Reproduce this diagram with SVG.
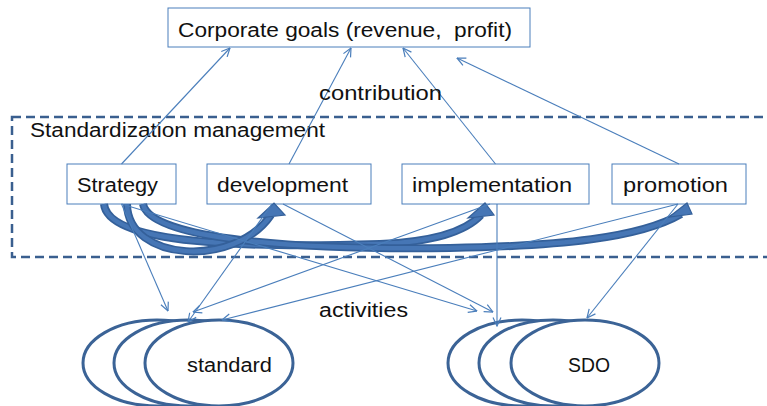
<svg xmlns="http://www.w3.org/2000/svg" width="767" height="406" viewBox="0 0 767 406">
<style>
.t{font-family:"Liberation Sans",Arial,sans-serif;font-size:20px;fill:#111}
.box{fill:#fff;stroke:#4a7ebb;stroke-width:1}
.ell{fill:#fff;stroke:#3b6396;stroke-width:3}
.ln{fill:none;stroke:#4a7ebb;stroke-width:1.1;marker-end:url(#ah)}
.bo{fill:none;stroke:#34609a;stroke-width:8;stroke-linecap:butt}
.bi{fill:none;stroke:#4676b5;stroke-width:4.5;stroke-linecap:butt}
.hd{fill:#4676b5;stroke:#34609a;stroke-width:1.2;stroke-linejoin:miter}
</style>
<defs>
<marker id="ah" viewBox="0 0 10 10" refX="9.5" refY="5" markerWidth="10" markerHeight="10" markerUnits="userSpaceOnUse" orient="auto">
<path d="M1,1 L9.5,5 L1,9" fill="none" stroke="#4a7ebb" stroke-width="1.2"/>
</marker>
</defs>
<rect width="767" height="406" fill="#fff"/>
<g id="zone">
<rect x="12" y="117" width="800" height="140" fill="none" stroke="#3a5f8f" stroke-width="2.5" stroke-dasharray="9,5"/>
<text class="t" x="30" y="137" textLength="295" lengthAdjust="spacingAndGlyphs">Standardization management</text>
</g>
<g id="goals">
<rect class="box" x="168" y="8" width="362" height="39"/>
<text class="t" x="178" y="37" font-size="21" textLength="334" lengthAdjust="spacingAndGlyphs" xml:space="preserve">Corporate goals (revenue,  profit)</text>
</g>
<g id="strategy">
<rect class="box" x="67" y="164" width="109" height="40"/>
<text class="t" x="77" y="192" font-size="21" textLength="81" lengthAdjust="spacingAndGlyphs">Strategy</text>
</g>
<g id="development">
<rect class="box" x="207" y="164" width="164" height="40"/>
<text class="t" x="217" y="192" font-size="21" textLength="131" lengthAdjust="spacingAndGlyphs">development</text>
</g>
<g id="implementation">
<rect class="box" x="402" y="164" width="187" height="40"/>
<text class="t" x="412" y="192" font-size="21" textLength="160" lengthAdjust="spacingAndGlyphs">implementation</text>
</g>
<g id="promotion">
<rect class="box" x="612" y="164" width="134" height="40"/>
<text class="t" x="623" y="192" font-size="21" textLength="105" lengthAdjust="spacingAndGlyphs">promotion</text>
</g>
<g id="standard">
<ellipse class="ell" cx="157" cy="363" rx="74" ry="43"/>
<ellipse class="ell" cx="188" cy="363" rx="74" ry="43"/>
<ellipse class="ell" cx="219" cy="363" rx="74" ry="43"/>
<text class="t" x="187" y="372" font-size="21" textLength="85" lengthAdjust="spacingAndGlyphs">standard</text>
</g>
<g id="sdo">
<ellipse class="ell" cx="522" cy="363" rx="74" ry="43"/>
<ellipse class="ell" cx="553" cy="363" rx="74" ry="43"/>
<ellipse class="ell" cx="585" cy="363" rx="74" ry="43"/>
<text class="t" x="568" y="372" font-size="21" textLength="42" lengthAdjust="spacingAndGlyphs">SDO</text>
</g>
<g id="connectors">
<g id="thick-arrows">
<path class="bo" d="M104,204 C108,245 250,248 380,244 C430,242 465,232 481,215"/>
<path class="bi" d="M104,204 C108,245 250,248 380,244 C430,242 465,232 481,215"/>
<path class="bo" d="M143,204 C150,240 300,250 450,248 C560,246 640,238 681,214"/>
<path class="bi" d="M143,204 C150,240 300,250 450,248 C560,246 640,238 681,214"/>
<path class="bo" d="M127,204 C128,262 235,268 271,215"/>
<path class="bi" d="M127,204 C128,262 235,268 271,215"/>
<polygon class="hd" points="258,218 274,203 285,215"/>
<polygon class="hd" points="468,218 485,203 494,215"/>
<polygon class="hd" points="669,217 687,203 692,214"/>
</g>
<line class="ln" x1="121.5" y1="164" x2="230" y2="48"/>
<line class="ln" x1="289" y1="164" x2="351" y2="48"/>
<line class="ln" x1="495.5" y1="164" x2="403" y2="48"/>
<line class="ln" x1="679" y1="164" x2="457" y2="58"/>
<line class="ln" x1="121.5" y1="204" x2="168" y2="311"/>
<line class="ln" x1="121.5" y1="204" x2="477" y2="311"/>
<line class="ln" x1="272" y1="204" x2="188" y2="322"/>
<line class="ln" x1="283" y1="204" x2="493" y2="312"/>
<line class="ln" x1="490" y1="204" x2="193" y2="312"/>
<line class="ln" x1="497" y1="204" x2="497" y2="326"/>
<line class="ln" x1="678" y1="204" x2="222" y2="320"/>
<line class="ln" x1="678" y1="204" x2="587" y2="318"/>
</g>
<text class="t" x="319" y="100" textLength="123" lengthAdjust="spacingAndGlyphs">contribution</text>
<text class="t" x="319" y="317" textLength="89" lengthAdjust="spacingAndGlyphs">activities</text>
</svg>
